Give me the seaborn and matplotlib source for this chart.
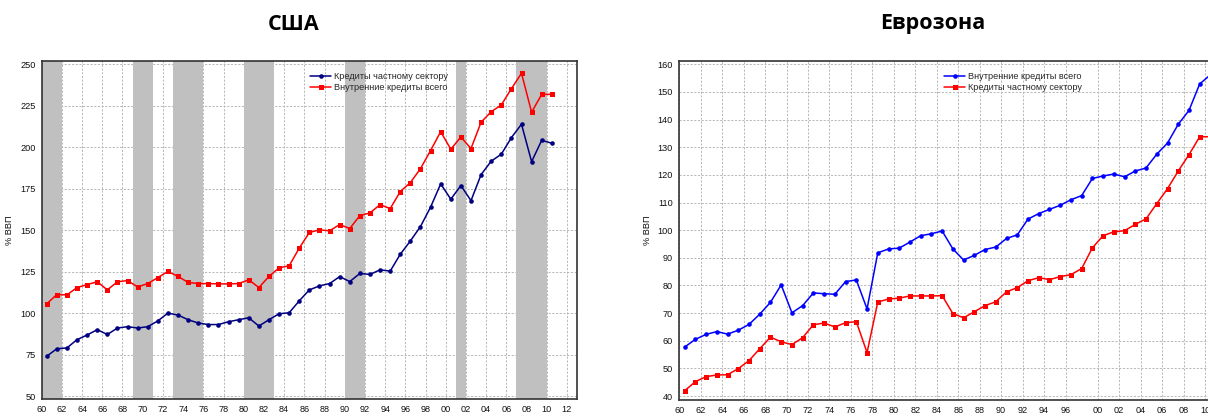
import numpy as np
import pandas as pd
import matplotlib
matplotlib.use("Agg")
import matplotlib.pyplot as plt
import seaborn as sns

# ---- США: 1960-2010, % ВВП ----
us_years = list(range(1960, 2011))
us_private = [74.0, 78.5, 79.0, 84.0, 86.8, 90.0, 87.1, 91.0, 91.8, 91.0,
              91.8, 95.3, 100.0, 98.8, 96.0, 94.0, 93.1, 93.1, 94.8, 96.0,
              97.2, 92.2, 96.0, 99.6, 100.2, 107.4, 114.0, 116.4, 117.8, 122.0,
              119.0, 123.9, 123.3, 126.1, 125.3, 135.5, 143.5, 152.2, 163.9, 177.9,
              168.7, 176.9, 167.8, 183.5, 191.6, 195.8, 205.8, 213.9, 191.3, 204.2,
              202.4]
us_total = [105.6, 111.2, 111.0, 115.4, 117.2, 118.9, 114.0, 118.9, 119.6, 115.8,
            117.8, 121.4, 125.1, 122.1, 118.5, 117.8, 117.8, 117.6, 117.6, 117.8,
            120.1, 115.4, 122.1, 127.3, 128.5, 139.2, 148.6, 150.2, 149.6, 153.4,
            151.0, 158.8, 160.4, 165.4, 163.0, 173.3, 178.7, 187.1, 198.0, 209.4,
            198.8, 206.2, 199.2, 215.1, 221.4, 225.5, 235.3, 244.6, 221.1, 231.9,
            231.9]
us_recessions = [(1960, 1962), (1969, 1971), (1973, 1976), (1980, 1983),
                 (1990, 1992), (2001, 2002), (2007, 2010)]

# ---- Еврозона: 1960-2009, % ВВП ----
ez_years = list(range(1960, 2010))
ez_total = [57.7, 60.5, 62.3, 63.3, 62.4, 63.8, 65.9, 69.6, 73.9, 80.2,
            70.1, 72.7, 77.3, 77.0, 76.8, 81.4, 82.0, 71.5, 91.8, 93.2,
            93.5, 95.7, 98.0, 98.7, 99.7, 93.2, 89.2, 90.9, 93.0, 93.9,
            97.0, 98.3, 104.0, 106.0, 107.5, 109.0, 111.0, 112.5, 118.7, 119.6,
            120.3, 119.3, 121.4, 122.5, 127.5, 131.5, 138.3, 143.3, 152.9, 156.2]
ez_private = [41.9, 45.2, 47.0, 47.6, 47.7, 49.9, 52.8, 57.1, 61.3, 59.6,
              58.6, 61.1, 65.8, 66.4, 65.0, 66.5, 66.9, 55.7, 74.0, 75.1,
              75.4, 76.2, 76.2, 76.2, 76.3, 69.8, 68.3, 70.5, 72.7, 74.1,
              77.7, 79.2, 81.7, 82.8, 82.1, 83.2, 83.9, 86.1, 93.6, 98.0,
              99.4, 99.8, 102.1, 104.1, 109.6, 115.0, 121.4, 127.3, 133.8, 133.8]

us_xticklabels = ["60", "62", "64", "66", "68", "70", "72", "74", "76", "78", "80",
                  "82", "84", "86", "88", "90", "92", "94", "96", "98", "00", "02",
                  "04", "06", "08", "10", "12"]
ez_xticklabels = ["60", "62", "64", "66", "68", "70", "72", "74", "76", "78", "80",
                  "82", "84", "86", "88", "90", "92", "94", "96", "00", "02",
                  "04", "06", "08", "10", "12"]

sns.set_style("white")
plt.rcParams["font.family"] = ["Liberation Sans", "DejaVu Sans"]

NAVY = "#000080"
BLUE = "#0000FF"
RED = "#FF0000"
SHADE = "#C0C0C0"
TICK_FS = 6.6
LEG_FS = 6.6

fig = plt.figure(figsize=(12.08, 4.19), dpi=100)
ax1 = fig.add_axes([0.0345, 0.0477, 0.4432, 0.8067])
ax2 = fig.add_axes([0.5623, 0.0453, 0.4708, 0.8098])


def mid(years):
    # each annual value sits in the middle of its year, axis counted from 1900
    return [y - 1900 + 0.5 for y in years]


def style_axes(ax):
    ax.grid(True, color="#b8b8b8", linestyle=(0, (2.2, 1.6)), linewidth=0.7, zorder=0)
    ax.set_axisbelow(True)
    for s in ax.spines.values():
        s.set_color("#333333")
        s.set_linewidth(1.2)
    ax.tick_params(axis="both", direction="out", length=2.5, width=0.8,
                   color="#333333", labelsize=TICK_FS, labelcolor="#111111", pad=2)


# ---- США ----
for a, b in us_recessions:
    ax1.axvspan(a - 1900, b - 1900, color=SHADE, lw=0, zorder=1)
us_df = pd.DataFrame({"x": mid(us_years), "private": us_private, "total": us_total})
sns.lineplot(data=us_df, x="x", y="private", ax=ax1, color=NAVY, lw=1.1,
             marker="o", markersize=3.3, markeredgewidth=0, markeredgecolor=NAVY,
             label="Кредиты частному сектору", zorder=3)
sns.lineplot(data=us_df, x="x", y="total", ax=ax1, color=RED, lw=1.1,
             marker="s", markersize=3.6, markeredgewidth=0, markeredgecolor=RED,
             label="Внутренние кредиты всего", zorder=3)
ax1.set_xlim(60, 113)
ax1.set_ylim(48.2, 252)
ax1.set_yticks([50, 75, 100, 125, 150, 175, 200, 225, 250])
ax1.set_xticks(list(range(60, 113, 2)))
ax1.set_xticklabels(us_xticklabels)
ax1.set_xlabel("")
ax1.set_ylabel("% ВВП", fontsize=TICK_FS, labelpad=4, color="#111111")
style_axes(ax1)
ax1.legend(loc="upper left", bbox_to_anchor=(0.49, 0.985), frameon=False,
           fontsize=LEG_FS, handlelength=2.2, handletextpad=0.4,
           labelspacing=0.2, borderpad=0.2)

# ---- Еврозона ----
ez_df = pd.DataFrame({"x": mid(ez_years), "total": ez_total, "private": ez_private})
sns.lineplot(data=ez_df, x="x", y="total", ax=ax2, color=BLUE, lw=1.1,
             marker="o", markersize=3.3, markeredgewidth=0, markeredgecolor=BLUE,
             label="Внутренние кредиты всего", zorder=3)
sns.lineplot(data=ez_df, x="x", y="private", ax=ax2, color=RED, lw=1.1,
             marker="s", markersize=3.6, markeredgewidth=0, markeredgecolor=RED,
             label="Кредиты частному сектору", zorder=3)
ax2.set_xlim(60, 113)
ax2.set_ylim(38.55, 161.3)
ax2.set_yticks(list(range(40, 161, 10)))
ez_tickpos = list(range(60, 97, 2)) + list(range(99, 112, 2))
ax2.set_xticks(ez_tickpos)
ax2.set_xticklabels(ez_xticklabels)
ax2.set_xlabel("")
ax2.set_ylabel("% ВВП", fontsize=TICK_FS, labelpad=4, color="#111111")
style_axes(ax2)
ax2.legend(loc="upper left", bbox_to_anchor=(0.455, 0.985), frameon=False,
           fontsize=LEG_FS, handlelength=2.2, handletextpad=0.4,
           labelspacing=0.2, borderpad=0.2)

fig.text(294 / 1208, 1 - 24 / 419, "США", ha="center", va="center", color="black",
         fontsize=15.5, fontweight="bold", family=["Open Sans", "DejaVu Sans"])
fig.text(933 / 1208, 1 - 24 / 419, "Еврозона", ha="center", va="center", color="black",
         fontsize=15.5, fontweight="bold", family=["Open Sans", "DejaVu Sans"])

fig.savefig("out.png", dpi=100)
